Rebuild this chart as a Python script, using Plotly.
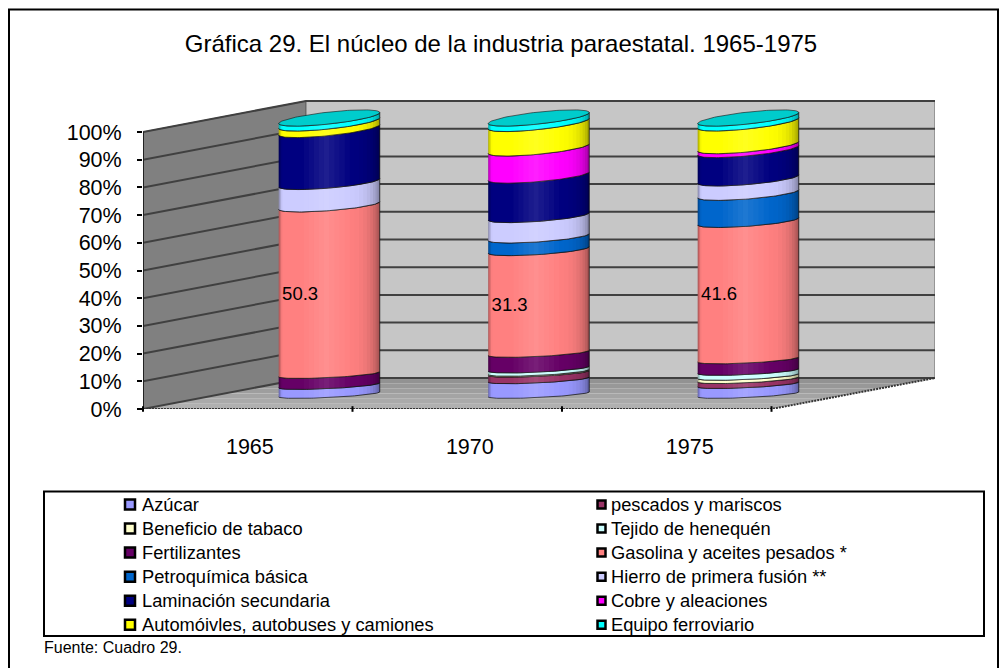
import math
import plotly.graph_objects as go

TITLE = "Gráfica 29. El núcleo de la industria paraestatal. 1965-1975"
SOURCE = "Fuente: Cuadro 29."
years = ["1965", "1970", "1975"]
pct_ticks = list(range(0, 101, 10))

azucar = [2.7, 4.5, 3.0]
pescados = [0.0, 2.0, 1.5]
tabaco = [0.0, 0.3, 1.0]
tejido = [0.0, 1.0, 1.5]
fertilizantes = [3.3, 4.8, 3.5]
gasolina = [50.3, 31.3, 41.6]
petroquimica = [0.0, 3.9, 8.3]
hierro = [6.8, 6.3, 4.4]
laminacion = [15.8, 12.2, 8.7]
cobre = [0.0, 8.4, 1.2]
automoviles = [2.0, 7.6, 7.0]
equipo = [1.5, 1.7, 1.5]

series = [
    ("Azúcar", azucar, "#9999FF"),
    ("pescados y mariscos", pescados, "#993366"),
    ("Beneficio de tabaco", tabaco, "#FFFFCC"),
    ("Tejido de henequén", tejido, "#CCFFFF"),
    ("Fertilizantes", fertilizantes, "#660066"),
    ("Gasolina y aceites pesados *", gasolina, "#FF8080"),
    ("Petroquímica básica", petroquimica, "#0066CC"),
    ("Hierro de primera fusión **", hierro, "#CCCCFF"),
    ("Laminación secundaria", laminacion, "#000080"),
    ("Cobre y aleaciones", cobre, "#FF00FF"),
    ("Automóivles, autobuses y camiones", automoviles, "#FFFF00"),
    ("Equipo ferroviario", equipo, "#00FFFF"),
]
LABELLED = "Gasolina y aceites pesados *"

W, H = 1000, 668
PX_L, PX_R, PX_T, PX_B = 143, 935, 100, 409
UX = 209.5               # px per category
UY = 277 / 100           # px per percent
XMIN = -0.5
XMAX = XMIN + (PX_R - PX_L) / UX
YMAX = (PX_B - PX_T) / UY
DEPTH_X = 163 / UX
DEPTH_Y = 31 / UY
FONT = "Liberation Sans, Arial, sans-serif"

fig = go.Figure()


def poly(xs, ys, fill, line=None, width=0):
    fig.add_trace(go.Scatter(x=xs, y=ys, mode="lines", fill="toself", fillcolor=fill,
                             line=dict(color=line or "rgba(0,0,0,0)", width=width),
                             hoverinfo="skip", showlegend=False))


# walls and floor
poly([XMIN, XMIN, XMIN + DEPTH_X, XMIN + DEPTH_X], [0, 100, 100 + DEPTH_Y, DEPTH_Y], "#808080", "#555555", 1)
poly([XMIN + DEPTH_X, XMIN + DEPTH_X, XMAX, XMAX], [DEPTH_Y, 100 + DEPTH_Y, 100 + DEPTH_Y, DEPTH_Y], "#C6C6C6", "#666666", 1)
floor_shades = ["#929292", "#989898", "#9E9E9E", "#A4A4A4", "#AAAAAA", "#B0B0B0"]
for k, shade in enumerate(floor_shades):
    a = 1 - k / len(floor_shades)
    b = 1 - (k + 1) / len(floor_shades)
    poly([XMIN + DEPTH_X * b, XMIN + DEPTH_X * a, 2.5 + DEPTH_X * a, 2.5 + DEPTH_X * b],
         [DEPTH_Y * b, DEPTH_Y * a, DEPTH_Y * a, DEPTH_Y * b], shade)

# gridlines
gx, gy = [], []
for v in pct_ticks:
    gx += [XMIN, XMIN + DEPTH_X, XMAX, None]
    gy += [v, v + DEPTH_Y, v + DEPTH_Y, None]
fig.add_trace(go.Scatter(x=gx, y=gy, mode="lines", line=dict(color="#404040", width=2),
                         hoverinfo="skip", showlegend=False))
fig.add_trace(go.Scatter(x=[XMIN, XMIN], y=[0, 100], mode="lines", line=dict(color="#222222", width=2),
                         hoverinfo="skip", showlegend=False))
fig.add_trace(go.Scatter(x=[XMIN, 2.5, XMAX], y=[0, 0, DEPTH_Y], mode="lines",
                         line=dict(color="#333333", width=2, dash="2px,1px"),
                         hoverinfo="skip", showlegend=False))
fig.add_trace(go.Scatter(x=[-0.5, 0.5, 1.5, 2.5], y=[0, 0, 0, 0], mode="markers", cliponaxis=False,
                         marker=dict(symbol="line-ns", size=4, line=dict(color="#000000", width=2)),
                         hoverinfo="skip", showlegend=False))

# cylinders
R = 50.5 / UX
X_OFF = DEPTH_X / 2
N = 60
BASE = (PX_B - 394.5) / UY
SPAN = 276.5 / 277


def rim(i, v, front=True):
    """Rim of the cylinder at height v (percent of the stack), left to right."""
    cx = i + X_OFF
    base = BASE + v * SPAN
    tilt = (2.5 + 3.0 * (v / 100) ** 2) / UY
    bulge = (3.0 + 3.0 * v / 100) / UY
    xs, ys = [], []
    for k in range(N + 1):
        th = math.pi * (1 - k / N)
        xs.append(cx + R * math.cos(th))
        sign = -1 if front else 1
        ys.append(base + tilt * math.cos(th) + sign * bulge * math.sin(th))
    return xs, ys


totals = [sum(s[1][i] for s in series) for i in range(3)]
label_x, label_y, label_t = [], [], []
for i in range(3):
    acc = 0.0
    for name, vals, color in series:
        share = vals[i] / totals[i] * 100
        if share <= 0:
            continue
        x0, y0 = rim(i, acc)
        x1, y1 = rim(i, acc + share)
        poly(x0 + x1[::-1], y0 + y1[::-1], color, "rgba(20,20,20,0.75)", 1)
        if name == LABELLED:
            label_x.append(i + X_OFF - R + 0.016)
            label_y.append(BASE + (acc + share / 2) * SPAN - 1.8)
            label_t.append(f"{vals[i]:.1f}")
        acc += share
    xt, yt = rim(i, 100)
    xb, yb = rim(i, 100, front=False)
    poly(xt + xb[::-1], yt + yb[::-1], "#00CCCC", "rgba(20,20,20,0.6)", 1)

# side shading: translucent strips over each cylinder's surface
STRIPS = 30
for s in range(STRIPS):
    u = (s + 0.5) / STRIPS
    dark = 0.5 * max(0.0, 1 - u / 0.12) + 0.55 * max(0.0, (u - 0.6) / 0.4) ** 2.2
    light = 0.12 * max(0.0, 1 - abs(u - 0.48) / 0.16)
    if dark < 0.004 and light < 0.004:
        continue
    color = f"rgba(0,0,0,{dark:.3f})" if dark >= light else f"rgba(255,255,255,{light:.3f})"
    xs, ys = [], []
    j0 = round(s * N / STRIPS)
    j1 = round((s + 1) * N / STRIPS)
    for i in range(3):
        xf, yf = rim(i, 0)
        xg, yg = rim(i, 100)
        xs += [xf[j0], xf[j1], xg[j1], xg[j0], xf[j0], None]
        ys += [yf[j0], yf[j1], yg[j1], yg[j0], yf[j0], None]
    poly(xs, ys, color)

fig.add_trace(go.Scatter(x=label_x, y=label_y, text=label_t, mode="text", textposition="middle right",
                         textfont=dict(family=FONT, size=18.5, color="#000000"),
                         hoverinfo="skip", showlegend=False))

# legend: swatches on a full-page axis pair, labels beside them
LEG_X = [130, 601.5]
LEG_TEXT_X = [140, 609]
LEG_ROW_0, LEG_ROW_STEP = 504.5, 24.05
annotations = []
for idx, (name, vals, color) in enumerate(series):
    col = idx % 2
    row = idx // 2
    ypx = LEG_ROW_0 + row * LEG_ROW_STEP
    fig.add_trace(go.Scatter(x=[LEG_X[col]], y=[ypx], xaxis="x2", yaxis="y2", mode="markers", name=name,
                             marker=dict(symbol="square", size=10 if col == 0 else 8, color=color,
                                         line=dict(color="#000000", width=2.5)),
                             hoverinfo="skip", showlegend=False))
    annotations.append(dict(text=name, x=LEG_TEXT_X[col], y=ypx, xref="x2", yref="y2", showarrow=False,
                            xanchor="left", yanchor="middle", font=dict(family=FONT, size=18.3)))
annotations.append(dict(text=SOURCE, x=42, y=647.5, xref="x2", yref="y2", showarrow=False, xanchor="left",
                        yanchor="middle", font=dict(family=FONT, size=16)))

fig.update_layout(
    width=W, height=H, autosize=False, paper_bgcolor="white", plot_bgcolor="rgba(0,0,0,0)",
    margin=dict(l=0, r=0, t=0, b=0),
    font=dict(family=FONT, size=18, color="#000000"),
    title=dict(text=TITLE, x=501 / W, xref="container", xanchor="center", y=1 - 44 / H, yanchor="middle",
               font=dict(family=FONT, size=24)),
    xaxis=dict(domain=[PX_L / W, PX_R / W], range=[XMIN, XMAX], showgrid=False, zeroline=False, showline=False,
               tickvals=[0.01, 1.06, 2.11], ticktext=years, ticks="", ticklabelstandoff=22, automargin=False,
               tickfont=dict(family=FONT, size=21.5)),
    yaxis=dict(domain=[1 - PX_B / H, 1 - PX_T / H], range=[0, YMAX], showgrid=False, zeroline=False, showline=False,
               tickvals=pct_ticks, ticktext=[f"{v}%" for v in pct_ticks], ticks="outside", ticklen=5, automargin=False,
               tickcolor="#000000", tickwidth=2, ticklabelstandoff=11, tickfont=dict(family=FONT, size=21.5)),
    xaxis2=dict(domain=[0, 1], range=[0, W], visible=False, fixedrange=True, anchor="y2", automargin=False),
    yaxis2=dict(domain=[0, 1], range=[H, 0], visible=False, fixedrange=True, anchor="x2", automargin=False),
    showlegend=False,
    shapes=[
        dict(type="path", xref="x2", yref="y2", layer="below",
             path=f"M 9 {H + 5} L 9 9.5 L 998 9.5 L 998 {H + 5}", line=dict(color="#000000", width=2)),
        dict(type="rect", xref="x2", yref="y2", layer="below", x0=44, x1=984, y0=491.5, y1=636,
             line=dict(color="#000000", width=2)),
    ],
    annotations=annotations,
)

fig.write_html("out.html", config={"displayModeBar": False}, post_script="document.body.style.margin='0';")
